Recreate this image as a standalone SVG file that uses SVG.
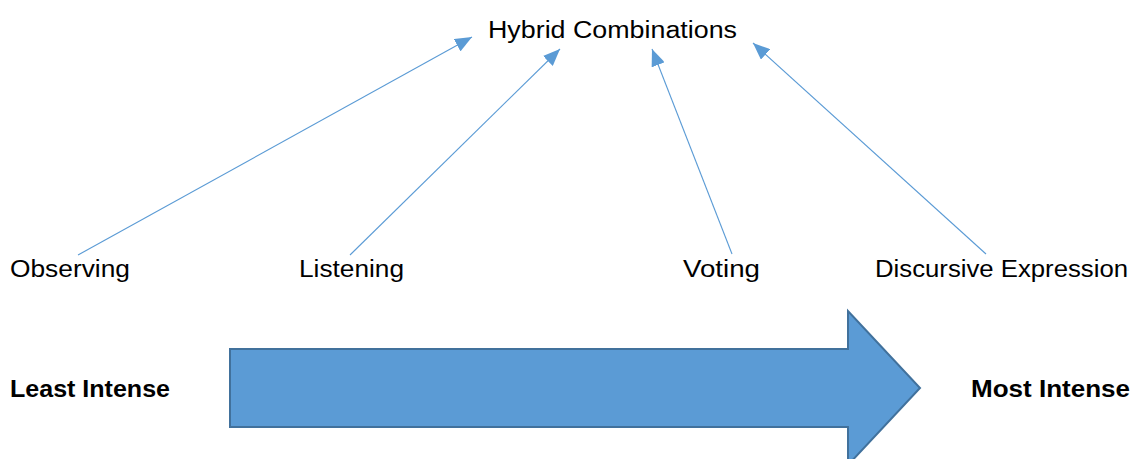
<svg xmlns="http://www.w3.org/2000/svg" width="1135" height="459" viewBox="0 0 1135 459">
<style>
.t{font-family:"Liberation Sans",Arial,sans-serif;font-size:23px;fill:#000}
.b{font-weight:bold}
.c{stroke:#5B9BD5;stroke-width:1.1;fill:none}
</style>
<defs>
<marker id="ah" markerUnits="userSpaceOnUse" markerWidth="18" markerHeight="14" refX="17" refY="7" orient="auto">
<path d="M0,0 L17,7 L0,14 Z" fill="#5B9BD5"/>
</marker>
</defs>
<rect width="1135" height="459" fill="#fff"/>
<g id="connectors">
<line class="c" x1="78" y1="255" x2="472" y2="37" marker-end="url(#ah)"/>
<line class="c" x1="350" y1="255" x2="560" y2="49" marker-end="url(#ah)"/>
<line class="c" x1="732" y1="254" x2="652" y2="49" marker-end="url(#ah)"/>
<line class="c" x1="986" y1="254" x2="753" y2="43" marker-end="url(#ah)"/>
</g>
<g id="hybrid"><text class="t" x="488" y="38" textLength="249" lengthAdjust="spacingAndGlyphs">Hybrid Combinations</text></g>
<g id="observing"><text class="t" x="10" y="277" textLength="120" lengthAdjust="spacingAndGlyphs">Observing</text></g>
<g id="listening"><text class="t" x="299" y="277" textLength="105" lengthAdjust="spacingAndGlyphs">Listening</text></g>
<g id="voting"><text class="t" x="683" y="277" textLength="77" lengthAdjust="spacingAndGlyphs">Voting</text></g>
<g id="discursive"><text class="t" x="875" y="277" textLength="253" lengthAdjust="spacingAndGlyphs">Discursive Expression</text></g>
<g id="intensity-arrow">
<path d="M230,349 L848,349 L848,311 L920,388 L848,465 L848,427 L230,427 Z" fill="#5B9BD5" stroke="#41719C" stroke-width="2"/>
</g>
<g id="least"><text class="t b" x="10" y="397" textLength="160" lengthAdjust="spacingAndGlyphs">Least Intense</text></g>
<g id="most"><text class="t b" x="971" y="397" textLength="159" lengthAdjust="spacingAndGlyphs">Most Intense</text></g>
</svg>
